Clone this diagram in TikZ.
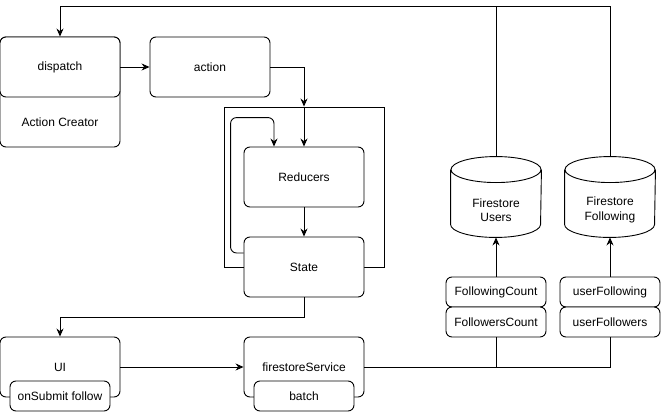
\documentclass[tikz,border=0pt]{standalone}
\usepackage{fontspec}
\setmainfont{Liberation Sans}
\usetikzlibrary{arrows.meta}

\begin{document}
\begin{tikzpicture}[x=1pt, y=-1pt, line width=0.9pt,
  >={Stealth[length=8pt,width=7pt]},
  font=\fontsize{12}{14.5}\selectfont,
  box/.style={draw, rounded corners=6pt, fill=white, minimum width=120pt, minimum height=60pt, inner sep=0pt},
  small/.style={box, minimum width=100pt, minimum height=30pt},
  db/.style={minimum width=90pt, minimum height=80pt, inner sep=0pt}]
  \useasboundingbox (0,0) rectangle (661,412);

  % redux side
  \node[box, minimum height=110pt] (creator) at (60,92) {};
  \node (creatorlbl) at (60,122) {Action Creator};
  \node[box] (dispatch) at (60,67) {dispatch};
  \node[box] (action) at (210,67) {action};
  \node[draw, minimum width=160pt, minimum height=160pt] (store) at (304,187) {};
  \node[box] (reducers) at (304,177) {Reducers};
  \node[box] (state) at (304,267) {State};

  % ui side
  \node[box] (ui) at (60,367) {UI};
  \node[small] (submit) at (60,396) {onSubmit follow};
  \node[box] (fs) at (304,367) {firestoreService};
  \node[small] (batch) at (304,396) {batch};

  % firestore
  \node[small] (fcount) at (496,292) {FollowingCount};
  \node[small] (frcount) at (496,322) {FollowersCount};
  \node[small] (ufollowing) at (610,292) {userFollowing};
  \node[small] (ufollowers) at (610,322) {userFollowers};
  \node[db] (users) at (496,197) {};
  \node[db] (following) at (610,197) {};
  \foreach \db in {users,following}
    \draw (\db.north) ++(0,13) ellipse[x radius=45pt, y radius=13pt]
      (\db.north west) ++(0,13) -- ([yshift=13pt]\db.south west)
      arc[start angle=180, end angle=360, x radius=45pt, y radius=13pt]
      -- ([yshift=-13pt]\db.north east);
  \node[align=center] (userslbl) at ([yshift=-13pt]users.center) {Firestore\\Users};
  \node[align=center] (followinglbl) at ([yshift=-13pt]following.center) {Firestore\\Following};

  \draw[->] (dispatch) -- (action);
  \draw[->] (action.east) -| (store.north);
  \draw[->] (store.north) -- (reducers.north);
  \draw[->] (reducers) -- (state);
  \draw[->, rounded corners=6pt] ([yshift=14pt]state.west) -- ++(-13,0)
    |- ([xshift=-30pt,yshift=29pt]reducers.north) -- ([xshift=-30pt]reducers.north);
  \draw[->] (state.south) -- ++(0,20) -| (ui.north);
  \draw[->] (ui) -- (fs);
  \draw (fs.east) -| (ufollowers.south);
  \draw (frcount.south) -- (frcount.south |- fs.east);
  \draw[->] (fcount) -- (users);
  \draw[->] (ufollowing) -- (following);
  \coordinate (top) at ([yshift=150pt]users.north);
  \draw[->] (users.north) -- (top) -| (dispatch.north);
  \draw (following.north) |- (top);
\end{tikzpicture}
\end{document}
